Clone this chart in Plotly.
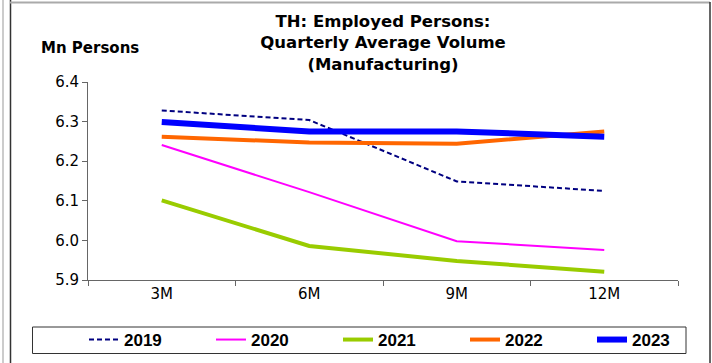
import plotly.graph_objects as go

categories = ["3M", "6M", "9M", "12M"]
y2019 = [6.328, 6.304, 6.149, 6.125]
y2020 = [6.241, 6.122, 5.998, 5.976]
y2021 = [6.101, 5.986, 5.948, 5.921]
y2022 = [6.262, 6.247, 6.244, 6.275]
y2023 = [6.299, 6.275, 6.275, 6.262]
ytick_vals = [5.9, 6.0, 6.1, 6.2, 6.3, 6.4]
ytick_text = ["5.9", "6.0", "6.1", "6.2", "6.3", "6.4"]

W, H = 712, 363
L, R, T, B = 88, 34, 82, 83
pw, ph = W - L - R, H - T - B

def px(x):
    return (x - L) / pw

def py(y):
    return (H - B - y) / ph

series = [
    ("2019", y2019, dict(color="#000080", width=2, dash="5px,3px")),
    ("2020", y2020, dict(color="#FF00FF", width=2)),
    ("2021", y2021, dict(color="#99CC00", width=4)),
    ("2022", y2022, dict(color="#FF6600", width=4)),
    ("2023", y2023, dict(color="#0000FF", width=6)),
]

fig = go.Figure()
for name, vals, line in series:
    fig.add_trace(go.Scatter(x=categories, y=vals, name=name, mode="lines", line=line))

wide = "DejaVu Sans, sans-serif"
arial = "Liberation Sans, Arial, sans-serif"
fig.update_layout(
    width=W, height=H,
    margin=dict(l=L, r=R, t=T, b=B, autoexpand=False),
    paper_bgcolor="white", plot_bgcolor="white",
    font=dict(family=wide, color="black", size=15),
    title=dict(
        text="<b>TH: Employed Persons:<br>Quarterly Average Volume<br>(Manufacturing)</b>",
        x=383 / W, xanchor="center", y=1 - 27 / H, yanchor="top",
        font=dict(size=16.5, family=wide),
    ),
    showlegend=True,
    legend=dict(
        orientation="h", x=px(84), xanchor="left", y=py(340), yanchor="middle",
        borderwidth=0, bgcolor="rgba(0,0,0,0)",
        font=dict(size=17, family=arial, weight="bold"),
        entrywidth=82, entrywidthmode="pixels",
        traceorder="normal",
    ),
    xaxis=dict(
        type="category", range=[-0.5, 3.5], showgrid=False,
        showline=True, linecolor="#666666", linewidth=1,
        ticks="outside", tickson="boundaries", ticklen=5, tickcolor="#666666",
        tickfont=dict(size=15, family=wide), zeroline=False,
    ),
    yaxis=dict(
        range=[5.9, 6.4], showgrid=False, zeroline=False,
        showline=True, linecolor="#666666", linewidth=1,
        ticks="outside", ticklen=5, tickcolor="#666666",
        tickvals=ytick_vals, ticktext=ytick_text, tickfont=dict(size=15, family=wide),
    ),
    annotations=[
        dict(text="<b>Mn Persons</b>", xref="paper", yref="paper",
             x=px(39), y=py(48), xanchor="left", yanchor="middle",
             showarrow=False, font=dict(size=15, family=wide)),
    ],
    shapes=[
        dict(type="line", xref="paper", yref="paper", x0=px(3), x1=px(3), y0=py(0), y1=py(363),
             line=dict(color="#999999", width=1)),
        dict(type="line", xref="paper", yref="paper", x0=px(10.5), x1=px(10.5), y0=py(0), y1=py(363),
             line=dict(color="#333333", width=1.5)),
        dict(type="line", xref="paper", yref="paper", x0=px(10), x1=px(710), y0=py(2.5), y1=py(2.5),
             line=dict(color="#AAAAAA", width=2)),
        dict(type="line", xref="paper", yref="paper", x0=px(710), x1=px(710), y0=py(2), y1=py(363),
             line=dict(color="#333333", width=1.5)),
        dict(type="rect", xref="paper", yref="paper", x0=px(32.5), x1=px(686), y0=py(327), y1=py(353.5),
             line=dict(color="#333333", width=1)),
    ],
)

post = (
    "document.documentElement.style.margin='0';"
    "document.documentElement.style.overflow='hidden';"
    "document.body.style.margin='0';"
    "document.body.style.overflow='hidden';"
    "window.scrollTo(0,0);"
)
fig.write_html("out.html", post_script=post, config={"displayModeBar": False})
